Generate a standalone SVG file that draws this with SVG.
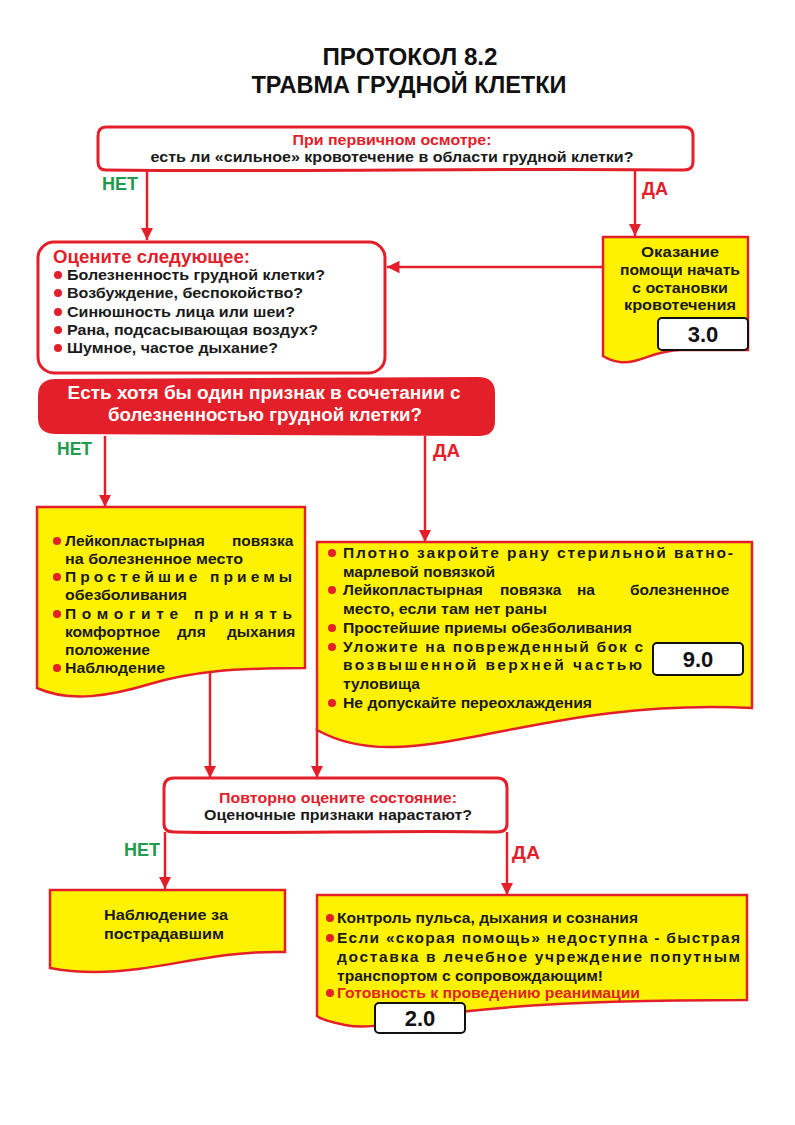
<svg xmlns="http://www.w3.org/2000/svg" width="795" height="1125" viewBox="0 0 795 1125">
<defs>
<marker id="ah" viewBox="0 0 10 10" refX="10" refY="5" markerWidth="5" markerHeight="5" orient="auto" markerUnits="strokeWidth">
<path d="M0,0 L10,5 L0,10 Z" fill="#e3202a"/>
</marker>
<style>
text{font-family:"Liberation Sans",Arial,sans-serif;font-weight:bold;}
.t{font-size:15.5px;fill:#1a1a1a;}
.r{fill:#e3202a;}
.g{fill:#1f9a4e;font-size:18px;}
.da{fill:#e3202a;font-size:18px;}
.w{fill:#fff;font-size:17.5px;}
.wb{fill:#fff;stroke:#e3202a;stroke-width:3;}
.yb{fill:#fff200;stroke:#e3202a;stroke-width:2.5;}
.badge{fill:#fff;stroke:#111;stroke-width:2;}
.bn{font-size:22px;fill:#111;text-anchor:middle;}
.c{fill:none;stroke:#e3202a;stroke-width:2.5;marker-end:url(#ah);}
.bl{fill:#e3202a;}
</style>
</defs>
<rect width="795" height="1125" fill="#fff"/>

<g id="title">
<text x="410" y="65" text-anchor="middle" font-size="24" fill="#111" textLength="175" lengthAdjust="spacingAndGlyphs">ПРОТОКОЛ  8.2</text>
<text x="409" y="93" text-anchor="middle" font-size="24" fill="#111" textLength="315" lengthAdjust="spacingAndGlyphs">ТРАВМА  ГРУДНОЙ  КЛЕТКИ</text>
</g>

<g id="connectors">
<line class="c" x1="147" y1="171" x2="147" y2="240"/>
<line class="c" x1="635" y1="171" x2="635" y2="236"/>
<line class="c" x1="603" y1="267" x2="387" y2="267"/>
<line class="c" x1="105" y1="436" x2="105" y2="507"/>
<line class="c" x1="425" y1="436" x2="425" y2="542"/>
<line class="c" x1="210" y1="672" x2="210" y2="778"/>
<line class="c" x1="317" y1="728" x2="317" y2="778"/>
<line class="c" x1="165" y1="832" x2="165" y2="889"/>
<line class="c" x1="507" y1="832" x2="507" y2="895"/>
<text class="g" x="102" y="190" textLength="36" lengthAdjust="spacingAndGlyphs">НЕТ</text>
<text class="da" x="642" y="195" textLength="26" lengthAdjust="spacingAndGlyphs">ДА</text>
<text class="g" x="57" y="455" textLength="35" lengthAdjust="spacingAndGlyphs">НЕТ</text>
<text class="da" x="433" y="457" textLength="27" lengthAdjust="spacingAndGlyphs">ДА</text>
<text class="g" x="124" y="856" textLength="36" lengthAdjust="spacingAndGlyphs">НЕТ</text>
<text class="da" x="512" y="859" textLength="28" lengthAdjust="spacingAndGlyphs">ДА</text>
</g>

<g id="n-initial">
<path class="wb" d="M106,127 H684 Q693,127 693,136 V162 Q693,170 684,170 C500,168 300,172 106,170 Q98,170 98,162 V136 Q98,127 106,127 Z"/>
<text class="r" x="392" y="145" text-anchor="middle" font-size="15.5" textLength="199" lengthAdjust="spacingAndGlyphs">При первичном осмотре:</text>
<text class="t" x="392" y="162" text-anchor="middle" textLength="483" lengthAdjust="spacingAndGlyphs">есть ли «сильное» кровотечение в области грудной клетки?</text>
</g>

<g id="n-assess">
<rect class="wb" x="38" y="242" width="347" height="131" rx="16"/>
<text class="r" x="53" y="263" font-size="18.5" textLength="197" lengthAdjust="spacingAndGlyphs">Оцените следующее:</text>
<circle class="bl" cx="58" cy="275" r="4"/>
<text class="t" x="67" y="280" textLength="258" lengthAdjust="spacingAndGlyphs">Болезненность грудной клетки?</text>
<circle class="bl" cx="58" cy="293" r="4"/>
<text class="t" x="67" y="298" textLength="236" lengthAdjust="spacingAndGlyphs">Возбуждение, беспокойство?</text>
<circle class="bl" cx="58" cy="312" r="4"/>
<text class="t" x="67" y="317" textLength="228" lengthAdjust="spacingAndGlyphs">Синюшность лица или шеи?</text>
<circle class="bl" cx="58" cy="330" r="4"/>
<text class="t" x="67" y="335" textLength="251" lengthAdjust="spacingAndGlyphs">Рана, подсасывающая воздух?</text>
<circle class="bl" cx="58" cy="348" r="4"/>
<text class="t" x="67" y="353" textLength="211" lengthAdjust="spacingAndGlyphs">Шумное, частое дыхание?</text>
</g>

<g id="n-bleeding">
<path class="yb" d="M603,237 H748 V350 H680 C655,350 640,364 620,362 C612,361 606,358 603,356 Z"/>
<text class="t" x="680" y="257" text-anchor="middle" textLength="78" lengthAdjust="spacingAndGlyphs">Оказание</text>
<text class="t" x="680" y="275" text-anchor="middle" textLength="120" lengthAdjust="spacingAndGlyphs">помощи начать</text>
<text class="t" x="680" y="293" text-anchor="middle" textLength="96" lengthAdjust="spacingAndGlyphs">с остановки</text>
<text class="t" x="680" y="310" text-anchor="middle" textLength="112" lengthAdjust="spacingAndGlyphs">кровотечения</text>
<rect class="badge" x="658" y="318" width="90" height="32" rx="4"/>
<text class="bn" x="703" y="342">3.0</text>
</g>

<g id="n-question">
<path d="M38,396 Q38,379 56,379 L478,377 Q495,377 495,393 L495,421 Q495,436 479,436 L56,434 Q38,434 38,418 Z" fill="#e3202a"/>
<text class="w" x="264" y="399" text-anchor="middle" textLength="393" lengthAdjust="spacingAndGlyphs">Есть  хотя бы один признак в сочетании с</text>
<text class="w" x="265" y="421" text-anchor="middle" textLength="314" lengthAdjust="spacingAndGlyphs">болезненностью грудной клетки?</text>
</g>

<g id="n-no-wound">
<path class="yb" d="M37,507 H305 V668 C230,668 190,672 150,684 C110,696 70,703 37,688 Z"/>
<circle class="bl" cx="57" cy="541" r="4"/>
<text class="t" x="65" y="546"><tspan x="65">Лейкопластырная</tspan><tspan x="232">повязка</tspan></text>
<text class="t" x="65" y="564" textLength="178" lengthAdjust="spacingAndGlyphs">на  болезненное место</text>
<circle class="bl" cx="57" cy="577" r="4"/>
<text class="t" x="65" y="582" textLength="227" lengthAdjust="spacing">Простейшие приемы</text>
<text class="t" x="65" y="600" textLength="122" lengthAdjust="spacingAndGlyphs">обезболивания</text>
<circle class="bl" cx="57" cy="614" r="4"/>
<text class="t" x="65" y="619" textLength="227" lengthAdjust="spacing">Помогите принять</text>
<text class="t" x="65" y="637"><tspan x="65">комфортное</tspan><tspan x="177">для</tspan><tspan x="227">дыхания</tspan></text>
<text class="t" x="65" y="655" textLength="85" lengthAdjust="spacingAndGlyphs">положение</text>
<circle class="bl" cx="57" cy="668" r="4"/>
<text class="t" x="65" y="673" textLength="100" lengthAdjust="spacingAndGlyphs">Наблюдение</text>
</g>

<g id="n-wound">
<path class="yb" d="M317,542 H752 V708 C580,700 480,745 395,747 C360,748 335,740 317,730 Z"/>
<circle class="bl" cx="332" cy="553" r="4"/>
<text class="t" x="343" y="558" textLength="390" lengthAdjust="spacing">Плотно закройте рану стерильной ватно-</text>
<text class="t" x="343" y="577" textLength="152" lengthAdjust="spacingAndGlyphs">марлевой повязкой</text>
<circle class="bl" cx="332" cy="590" r="4"/>
<text class="t" x="343" y="595"><tspan x="343">Лейкопластырная</tspan><tspan x="500">повязка</tspan><tspan x="577">на</tspan><tspan x="630">болезненное</tspan></text>
<text class="t" x="343" y="614" textLength="204" lengthAdjust="spacingAndGlyphs">место, если там нет раны</text>
<circle class="bl" cx="332" cy="628" r="4"/>
<text class="t" x="343" y="633" textLength="289" lengthAdjust="spacingAndGlyphs">Простейшие приемы обезболивания</text>
<circle class="bl" cx="332" cy="647" r="4"/>
<text class="t" x="343" y="652" textLength="300" lengthAdjust="spacing">Уложите на поврежденный бок с</text>
<text class="t" x="343" y="670" textLength="299" lengthAdjust="spacing">возвышенной верхней частью</text>
<text class="t" x="343" y="689" textLength="77" lengthAdjust="spacingAndGlyphs">туловища</text>
<circle class="bl" cx="332" cy="703" r="4"/>
<text class="t" x="343" y="708" textLength="249" lengthAdjust="spacingAndGlyphs">Не допускайте переохлаждения</text>
<rect class="badge" x="653" y="643" width="90" height="32" rx="4"/>
<text class="bn" x="698" y="667">9.0</text>
</g>

<g id="n-reassess">
<path class="wb" d="M174,778 H497 Q507,778 507,788 V824 Q507,832 497,832 C400,830 270,834 174,832 Q164,832 164,824 V788 Q164,778 174,778 Z"/>
<text class="r" x="338" y="803" text-anchor="middle" font-size="15.5" textLength="238" lengthAdjust="spacingAndGlyphs">Повторно оцените состояние:</text>
<text class="t" x="338" y="820" text-anchor="middle" textLength="268" lengthAdjust="spacingAndGlyphs">Оценочные признаки нарастают?</text>
</g>

<g id="n-observe">
<path class="yb" d="M50,890 H285 V952 C210,950 160,972 95,972 C75,972 60,970 50,968 Z"/>
<text class="t" x="104" y="920" textLength="124" lengthAdjust="spacingAndGlyphs">Наблюдение за</text>
<text class="t" x="104" y="939" textLength="120" lengthAdjust="spacingAndGlyphs">пострадавшим</text>
</g>

<g id="n-worse">
<path class="yb" d="M317,895 H747 V1000 C600,1000 500,1005 430,1016 C395,1022 370,1030 345,1025 C330,1022 321,1019 317,1016 Z"/>
<circle class="bl" cx="330" cy="918" r="4"/>
<text class="t" x="337" y="923" textLength="301" lengthAdjust="spacingAndGlyphs">Контроль пульса, дыхания и сознания</text>
<circle class="bl" cx="330" cy="938" r="4"/>
<text class="t" x="337" y="943" textLength="403" lengthAdjust="spacing">Если  «скорая помощь» недоступна -  быстрая</text>
<text class="t" x="337" y="962" textLength="403" lengthAdjust="spacing">доставка в лечебное учреждение попутным</text>
<text class="t" x="337" y="981" textLength="266" lengthAdjust="spacingAndGlyphs">транспортом с сопровождающим!</text>
<circle class="bl" cx="330" cy="993" r="4"/>
<text class="r" x="337" y="998" font-size="15.5" textLength="303" lengthAdjust="spacingAndGlyphs">Готовность к проведению реанимации</text>
<rect class="badge" x="375" y="1003" width="90" height="30" rx="4"/>
<text class="bn" x="420" y="1026">2.0</text>
</g>
</svg>
